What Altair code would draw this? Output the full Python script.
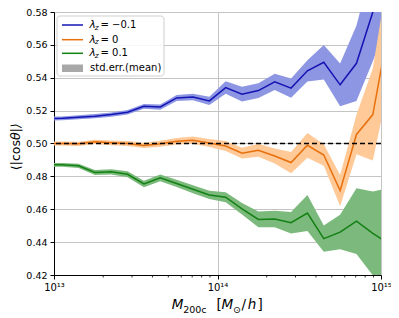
import altair as alt
import pandas as pd

# ---- data -------------------------------------------------------------
log_mass = [12.95, 13.05, 13.15, 13.25, 13.35, 13.45, 13.55, 13.65, 13.75, 13.85, 13.95,
            14.05, 14.15, 14.25, 14.35, 14.45, 14.55, 14.65, 14.75, 14.85, 14.95, 15.05]

blue_mean = [0.5150, 0.5153, 0.5160, 0.5166, 0.5176, 0.5190, 0.5226, 0.5222, 0.5277, 0.5283, 0.5259,
             0.5340, 0.5300, 0.5322, 0.5375, 0.5337, 0.5442, 0.5494, 0.5357, 0.5488, 0.5800, 0.6120]
blue_err = [0.0012, 0.0012, 0.0012, 0.0013, 0.0013, 0.0014, 0.0015, 0.0016, 0.0018, 0.0020, 0.0025,
            0.0038, 0.0045, 0.0045, 0.0050, 0.0058, 0.0065, 0.0105, 0.0130, 0.0230, 0.0300, 0.0360]

orange_mean = [0.5000, 0.5000, 0.4998, 0.5010, 0.5004, 0.5000, 0.4988, 0.4998, 0.5014, 0.5020, 0.5003,
               0.4985, 0.4941, 0.4959, 0.4924, 0.4884, 0.4989, 0.4930, 0.4713, 0.5055, 0.5176, 0.5720]
orange_err = [0.0012, 0.0012, 0.0013, 0.0013, 0.0014, 0.0015, 0.0016, 0.0018, 0.0020, 0.0022, 0.0025,
              0.0030, 0.0033, 0.0040, 0.0045, 0.0065, 0.0075, 0.0065, 0.0095, 0.0120, 0.0280, 0.0350]

green_mean = [0.4870, 0.4870, 0.4864, 0.4824, 0.4828, 0.4813, 0.4754, 0.4791, 0.4757, 0.4722, 0.4687,
              0.4673, 0.4603, 0.4538, 0.4541, 0.4518, 0.4577, 0.4421, 0.4461, 0.4528, 0.4453, 0.4390]
green_err = [0.0012, 0.0012, 0.0013, 0.0015, 0.0016, 0.0018, 0.0020, 0.0021, 0.0022, 0.0024, 0.0025,
             0.0030, 0.0035, 0.0048, 0.0050, 0.0065, 0.0110, 0.0080, 0.0105, 0.0200, 0.0255, 0.0340]

x_major = [1e13, 1e14, 1e15]
x_minor = [2e13, 3e13, 4e13, 5e13, 6e13, 7e13, 8e13, 9e13,
           2e14, 3e14, 4e14, 5e14, 6e14, 7e14, 8e14, 9e14]
y_ticks = [0.42, 0.44, 0.46, 0.48, 0.50, 0.52, 0.54, 0.56, 0.58]

FONT = "DejaVu Sans"
BLUE_L, BLUE_F = "#1414b4", "#8d96e2"
ORANGE_L, ORANGE_F = "#e8700c", "#ffc998"
GREEN_L, GREEN_F = "#138013", "#7cb97c"

W, H = 327, 263
TOP = 4


def frame(mean, err):
    return pd.DataFrame({
        "M": [10 ** v for v in log_mass],
        "mean": mean,
        "lo": [m - e for m, e in zip(mean, err)],
        "hi": [m + e for m, e in zip(mean, err)],
    })


label_expr = ("'10' + (round(log(datum.value)/LN10) == 13 ? '¹³' : "
              "round(log(datum.value)/LN10) == 14 ? '¹⁴' : '¹⁵')")

xscale = alt.Scale(type="log", domain=[1e13, 1e15], nice=False)
yscale = alt.Scale(domain=[0.42, 0.58], nice=False, zero=False)

xaxis = alt.Axis(values=x_major, labelExpr=label_expr, title=None, grid=True,
                 tickSize=4, labelPadding=3, labelFontSize=10, labelFont=FONT,
                 labelColor="black", domainColor="black", tickColor="black",
                 gridColor="#c4c4c4", gridWidth=1, labelFlush=False)
yaxis = alt.Axis(values=y_ticks, format=".2f", title=None, grid=True,
                 tickSize=4, labelPadding=3, labelFontSize=9.5, labelFont=FONT,
                 labelColor="black", domainColor="black", tickColor="black",
                 gridColor="#c4c4c4", gridWidth=1, labelFlush=False)

X = lambda: alt.X("M:Q", scale=xscale, axis=xaxis)


def series(mean, err, line_c, fill_c):
    d = frame(mean, err)
    band = alt.Chart(d).mark_area(color=fill_c, opacity=1, clip=True).encode(
        x=X(),
        y=alt.Y("lo:Q", scale=yscale, axis=yaxis),
        y2="hi:Q",
    )
    line = alt.Chart(d).mark_line(color=line_c, strokeWidth=1.5, clip=True).encode(
        x=X(),
        y=alt.Y("mean:Q", scale=yscale, axis=yaxis),
    )
    return [band, line]


layers = []
layers += series(blue_mean, blue_err, BLUE_L, BLUE_F)
layers += series(orange_mean, orange_err, ORANGE_L, ORANGE_F)
layers += series(green_mean, green_err, GREEN_L, GREEN_F)

# dashed reference line at 0.5
ref = alt.Chart(pd.DataFrame({"y": [0.5]})).mark_rule(
    color="black", strokeDash=[5, 3], strokeWidth=1.5).encode(
    y=alt.Y("y:Q", scale=yscale, axis=yaxis))
layers.append(ref)

# minor ticks of the log axis
minor = alt.Chart(pd.DataFrame({"M": x_minor})).mark_rule(
    color="black", strokeWidth=0.8).encode(
    x=X(),
    y=alt.value(H), y2=alt.value(H + 2.5))
layers.append(minor)

one = pd.DataFrame({"k": [0]})

# legend box
layers.append(alt.Chart(one).mark_rect(
    fill="white", fillOpacity=0.85, stroke="#cfcfcf", strokeWidth=1, cornerRadius=3).encode(
    x=alt.value(3), x2=alt.value(110), y=alt.value(4), y2=alt.value(64)))

legend_rows = [("= −0.1", BLUE_L, 13.0), ("= 0", ORANGE_L, 27.7), ("= 0.1", GREEN_L, 41.3)]
for txt, col, yy in legend_rows:
    layers.append(alt.Chart(one).mark_rule(color=col, strokeWidth=1.5).encode(
        x=alt.value(8), x2=alt.value(29), y=alt.value(yy)))
    layers.append(alt.Chart(one).mark_text(
        text="λ", font=FONT, fontSize=10.5, fontStyle="italic", align="left",
        baseline="middle", color="black").encode(x=alt.value(35.5), y=alt.value(yy)))
    layers.append(alt.Chart(one).mark_text(
        text="z", font=FONT, fontSize=7.5, fontStyle="italic", align="left",
        baseline="middle", color="black").encode(x=alt.value(40.8), y=alt.value(yy + 2.5)))
    layers.append(alt.Chart(one).mark_text(
        text=txt, font=FONT, fontSize=10, align="left",
        baseline="middle", color="black").encode(x=alt.value(46.5), y=alt.value(yy)))

layers.append(alt.Chart(one).mark_rect(color="#a8a8a8").encode(
    x=alt.value(8), x2=alt.value(29), y=alt.value(52.5), y2=alt.value(60)))
layers.append(alt.Chart(one).mark_text(
    text="std.err.(mean)", font=FONT, fontSize=10, align="left",
    baseline="middle", color="black").encode(x=alt.value(36), y=alt.value(56.3)))

# y title
layers.append(alt.Chart(one).mark_text(
    text="⟨|cos", font=FONT, fontSize=12.5, angle=270, align="right",
    baseline="middle", color="black").encode(x=alt.value(-38), y=alt.value(128)))
layers.append(alt.Chart(one).mark_text(
    text="θ|⟩", font=FONT, fontSize=12.5, angle=270, align="left",
    baseline="middle", color="black", fontStyle="italic").encode(x=alt.value(-38), y=alt.value(128)))

# x title pieces
TB = 297
xt = [
    ("M", 117.7, TB, 13.5, "italic"),
    ("200c", 129.2, TB + 3.5, 9.5, "normal"),
    ("[", 162.5, TB, 13.5, "normal"),
    ("M", 167.5, TB, 13.5, "italic"),
    ("⊙", 179.0, TB + 3.5, 9.5, "normal"),
    ("/", 187.5, TB, 13.5, "normal"),
    ("h", 193.8, TB, 13.5, "italic"),
    ("]", 203.5, TB, 13.5, "normal"),
]
for t, xx, yy, fs, st in xt:
    layers.append(alt.Chart(one).mark_text(
        text=t, font=FONT, fontSize=fs, fontStyle=st, align="left",
        baseline="alphabetic", color="black").encode(x=alt.value(xx), y=alt.value(yy)))

chart = alt.layer(*layers).properties(
    width=W, height=H,
    autosize=alt.AutoSizeParams(type="none"),
    padding={"left": 46, "top": TOP, "right": 10, "bottom": 39},
).configure_view(stroke="black", strokeWidth=1).configure(background="white")

chart.save("out.html", embed_options={"renderer": "svg", "actions": False})
